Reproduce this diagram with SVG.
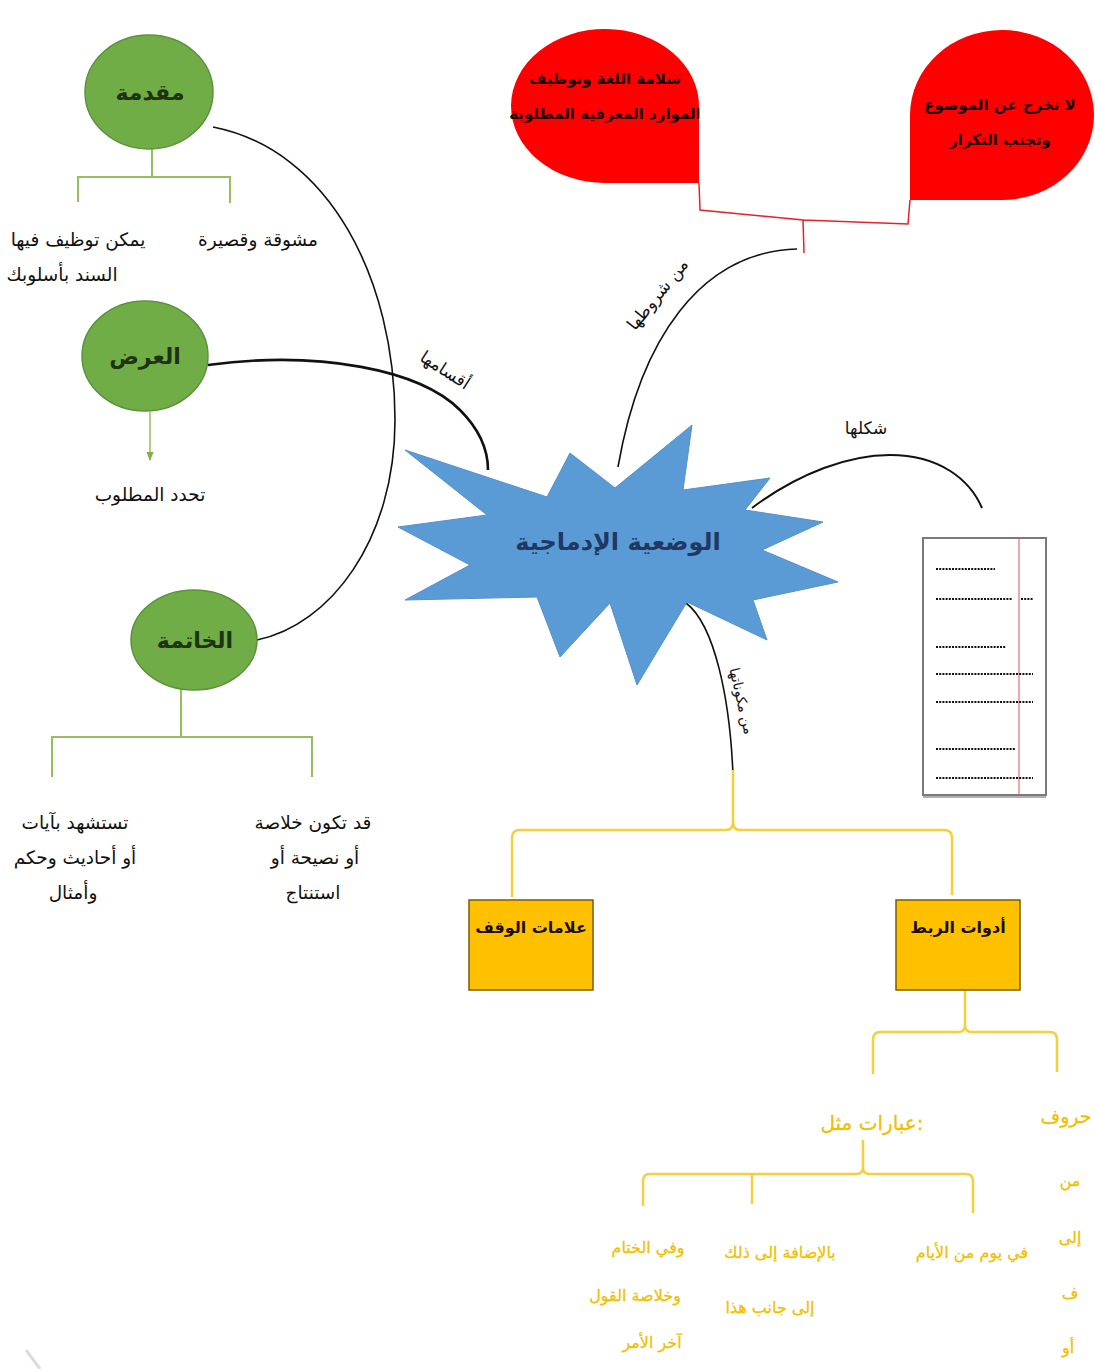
<svg xmlns="http://www.w3.org/2000/svg" width="1095" height="1369" viewBox="0 0 1095 1369">
<style>
text{font-family:"DejaVu Sans","Liberation Sans",sans-serif;}
.ell{fill:#70AD47;stroke:#5d913a;stroke-width:1.5}
.et{font-size:22px;font-weight:bold;fill:#1d3312;text-anchor:middle}
.gl{fill:none;stroke:#93bf5e;stroke-width:2}
.blk{fill:none;stroke:#111;stroke-width:1.6}
.yl{fill:none;stroke:#f4d03c;stroke-width:2.5}
.rl{fill:none;stroke:#e8202a;stroke-width:1.5}
.t{font-size:18.5px;fill:#111;text-anchor:middle}
.lb{font-size:17px;fill:#111;text-anchor:middle}
.rt{font-size:15px;font-weight:bold;fill:#1a0000;text-anchor:middle}
.yt{font-size:16px;fill:#f2bf00;text-anchor:middle;stroke:#f2bf00;stroke-width:0.3}
.box{fill:#FFC000;stroke:#7a5c00;stroke-width:1.5}
.bt{font-size:16px;font-weight:bold;fill:#1a1000;text-anchor:middle}
.dot{stroke:#111;stroke-width:2;stroke-dasharray:2 1.2}
</style>
<defs>
<marker id="ga" viewBox="0 0 10 10" refX="9" refY="5" markerWidth="6" markerHeight="6" orient="auto"><path d="M0,1 L10,5 L0,9 Z" fill="#7fb04a"/></marker>
</defs>

<g id="connectors">
<path class="blk" d="M213,127 C330,150 395,280 395,420 C395,540 330,625 257,640"/>
<path class="blk" style="stroke-width:2.6" d="M208,365 C320,350 420,370 460,410 C480,430 488,450 488,470"/>
<path class="blk" d="M618,467 C640,340 700,252 797,249"/>
<path class="blk" style="stroke-width:2" d="M752,508 C800,472 850,455 890,455 C940,455 970,480 982,508"/>
<path class="blk" d="M686,603 C715,625 730,700 733,775"/>
<path class="yl" d="M733,770 L733,822 Q733,830 726,830 L520,830 Q512,830 512,838 L512,897"/>
<path class="yl" d="M733,822 Q733,830 740,830 L944,830 Q952,830 952,838 L952,895"/>
<path class="yl" d="M965,990 L965,1025 Q965,1032 958,1032 L880,1032 Q873,1032 873,1040 L873,1074"/>
<path class="yl" d="M965,1025 Q965,1032 972,1032 L1050,1032 Q1057,1032 1057,1040 L1057,1072"/>
<path class="yl" d="M863,1140 L863,1168 Q863,1174 856,1174 L650,1174 Q643,1174 643,1181 L643,1206"/>
<path class="yl" d="M752,1174 L752,1204"/>
<path class="yl" d="M863,1168 Q863,1174 870,1174 L966,1174 Q973,1174 973,1181 L973,1213"/>
<path class="gl" d="M152,148 L152,177 M78,202 L78,177 L230,177 L230,203"/>
<path class="gl" d="M181,690 L181,737 M52,777 L52,737 L312,737 L312,777"/>
<path class="gl" style="stroke-width:1.5" d="M150,412 L150,460" marker-end="url(#ga)"/>
<path class="rl" d="M699,183 L700,210 L803,220 L804,253 M803,220 L908,224 L910,200"/>
<line x1="26" y1="1350" x2="40" y2="1369" stroke="#dcdcdc" stroke-width="3"/>
</g>

<g id="label-aqsam"><text class="lb" transform="translate(442,375) rotate(33)">أقسامها</text></g>
<g id="label-shurut"><text class="lb" transform="translate(662,298) rotate(-51)">من شروطها</text></g>
<g id="label-shakl"><text class="lb" x="866" y="434">شكلها</text></g>
<g id="label-mukawwinat"><text class="lb" style="font-size:14px" transform="translate(737,702) rotate(77)">من مكوناتها</text></g>

<g id="node-center">
<path d="M405,450 L547,497 L570,453 L615,488 L692,425 L683,490 L770,478 L745,510 L823,522 L762,550 L838,582 L753,600 L767,640 L687,602 L637,685 L610,603 L560,657 L537,597 L405,600 L470,565 L398,527 L487,515 Z" fill="#5B9BD5" stroke="#5590c9" stroke-width="1"/>
<text x="618" y="550" style="font-size:24px;font-weight:bold;fill:#1F3864;text-anchor:middle">الوضعية الإدماجية</text>
</g>

<g id="node-muqaddima">
<ellipse class="ell" cx="149" cy="92" rx="64" ry="57"/>
<text class="et" x="150" y="100">مقدمة</text>
</g>
<g id="node-ard">
<ellipse class="ell" cx="145" cy="356" rx="63" ry="55"/>
<text class="et" x="145" y="364">العرض</text>
</g>
<g id="node-khatima">
<ellipse class="ell" cx="194" cy="640" rx="63" ry="50"/>
<text class="et" x="195" y="648">الخاتمة</text>
</g>

<g id="text-mushawwiqa"><text class="t" x="258" y="246">مشوقة وقصيرة</text></g>
<g id="text-yumkin"><text class="t" x="78" y="246">يمكن توظيف فيها</text><text class="t" x="62" y="281">السند بأسلوبك</text></g>
<g id="text-tuhaddid"><text class="t" x="150" y="501">تحدد المطلوب</text></g>
<g id="text-qad"><text class="t" x="313" y="829">قد تكون خلاصة</text><text class="t" x="315" y="864">أو نصيحة أو</text><text class="t" x="313" y="899">استنتاج</text></g>
<g id="text-tastashhid"><text class="t" x="75" y="829">تستشهد بآيات</text><text class="t" x="75" y="864">أو أحاديث وحكم</text><text class="t" x="73" y="899">وأمثال</text></g>

<g id="node-salama">
<path d="M699,107 L699,183 L605,183 A94,77 0 1 1 699,107 Z" fill="#FF0000"/>
<text class="rt" x="605" y="84">سلامة اللغة وتوظيف</text>
<text class="rt" x="605" y="119">الموارد المعرفية المطلوبة</text>
</g>
<g id="node-la-takhruj">
<path d="M910,115 L910,200 L1002,200 A92,85 0 1 0 910,115 Z" fill="#FF0000"/>
<text class="rt" x="1000" y="110">لا تخرج عن الموضوع</text>
<text class="rt" x="1000" y="145">وتجنب التكرار</text>
</g>

<g id="node-document">
<rect x="923" y="538" width="123" height="257" fill="#fff" stroke="#7a7a7a" stroke-width="2"/>
<line x1="923" y1="797" x2="1046" y2="797" stroke="#b0b0b0" stroke-width="2"/>
<line x1="1019" y1="538" x2="1019" y2="795" stroke="#e84a4a" stroke-width="1"/>
<line class="dot" x1="936" y1="569" x2="995" y2="569"/>
<line class="dot" x1="936" y1="599" x2="1012" y2="599"/>
<line class="dot" x1="1021" y1="599" x2="1033" y2="599"/>
<line class="dot" x1="936" y1="647" x2="1006" y2="647"/>
<line class="dot" x1="936" y1="674" x2="1033" y2="674"/>
<line class="dot" x1="936" y1="702" x2="1033" y2="702"/>
<line class="dot" x1="936" y1="749" x2="1015" y2="749"/>
<line class="dot" x1="936" y1="778" x2="1033" y2="778"/>
</g>

<g id="node-alamat"><rect class="box" x="469" y="900" width="124" height="90"/><text class="bt" x="531" y="933">علامات الوقف</text></g>
<g id="node-adawat"><rect class="box" x="896" y="900" width="124" height="90"/><text class="bt" x="958" y="933">أدوات الربط</text></g>

<g id="node-huruf">
<text class="yt" style="font-size:19px" x="1066" y="1123">حروف</text>
<text class="yt" x="1070" y="1186">من</text>
<text class="yt" x="1070" y="1243">إلى</text>
<text class="yt" x="1070" y="1299">ف</text>
<text class="yt" x="1068" y="1353">أو</text>
</g>
<g id="node-ibarat"><text class="yt" style="font-size:20px" x="872" y="1130">عبارات مثل:</text></g>
<g id="node-fi-yawm"><text class="yt" x="972" y="1258">في يوم من الأيام</text></g>
<g id="node-bil-idafa"><text class="yt" x="780" y="1258">بالإضافة إلى ذلك</text><text class="yt" x="770" y="1313">إلى جانب هذا</text></g>
<g id="node-wa-fi"><text class="yt" x="648" y="1253">وفي الختام</text><text class="yt" x="635" y="1301">وخلاصة القول</text><text class="yt" x="652" y="1348">آخر الأمر</text></g>
</svg>
